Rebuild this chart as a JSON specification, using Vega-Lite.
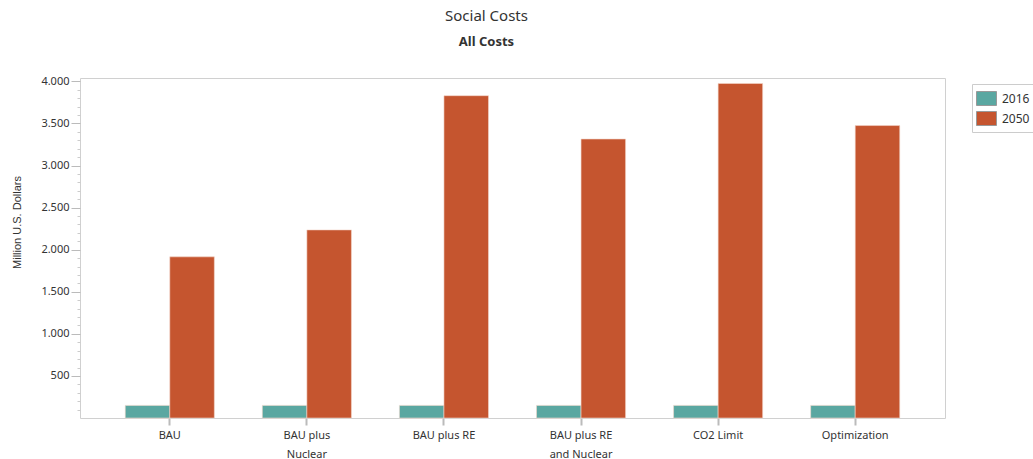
{
  "$schema": "https://vega.github.io/schema/vega-lite/v6.json",
  "autosize": {"type": "none"},
  "width": 865,
  "height": 340,
  "padding": {"left": 80, "top": 78, "right": 88, "bottom": 41},
  "title": {
    "text": "Social Costs",
    "subtitle": "All Costs",
    "anchor": "middle",
    "dx": -26,
    "offset": 26,
    "font": "Noto Sans",
    "fontSize": 15,
    "fontWeight": "normal",
    "color": "#333333",
    "subtitleFont": "Noto Sans",
    "subtitleFontSize": 13,
    "subtitleFontWeight": "bold",
    "subtitleColor": "#333333",
    "subtitlePadding": 12
  },
  "data": {
    "values": [
      {"scenario": "BAU", "year": "2016", "value": 150},
      {"scenario": "BAU", "year": "2050", "value": 1915},
      {"scenario": "BAU plus|Nuclear", "year": "2016", "value": 150},
      {"scenario": "BAU plus|Nuclear", "year": "2050", "value": 2235},
      {"scenario": "BAU plus RE", "year": "2016", "value": 150},
      {"scenario": "BAU plus RE", "year": "2050", "value": 3830},
      {"scenario": "BAU plus RE|and Nuclear", "year": "2016", "value": 150},
      {"scenario": "BAU plus RE|and Nuclear", "year": "2050", "value": 3315},
      {"scenario": "CO2 Limit", "year": "2016", "value": 150},
      {"scenario": "CO2 Limit", "year": "2050", "value": 3975},
      {"scenario": "Optimization", "year": "2016", "value": 150},
      {"scenario": "Optimization", "year": "2050", "value": 3475}
    ]
  },
  "encoding": {
    "x": {
      "field": "scenario",
      "type": "nominal",
      "sort": null,
      "scale": {"paddingInner": 0.35, "paddingOuter": 0.33},
      "axis": {
        "title": null,
        "labelAngle": 0,
        "labelExpr": "split(datum.value, '|')",
        "labelLineHeight": 19,
        "labelBaseline": "top",
        "labelPadding": 4,
        "labelFont": "Noto Sans",
        "labelFontSize": 11,
        "labelColor": "#333333",
        "domain": false,
        "tickSize": 7,
        "tickWidth": 2,
        "tickColor": "#bbbbbb"
      }
    }
  },
  "layer": [
    {
      "mark": {"type": "bar", "stroke": "#f4d8cc", "strokeWidth": 0.6},
      "encoding": {
        "xOffset": {"field": "year", "type": "nominal"},
        "y": {
          "field": "value",
          "type": "quantitative",
          "scale": {"domain": [0, 4040], "nice": false, "zero": true},
          "axis": {
            "title": "Million U.S. Dollars",
            "titleFont": "Liberation Sans Narrow, Liberation Sans",
            "titleFontSize": 11,
            "titleFontWeight": "normal",
            "titleColor": "#333333",
            "titlePadding": 18,
            "titleY": 144,
            "values": [500, 1000, 1500, 2000, 2500, 3000, 3500, 4000],
            "labelExpr": "replace(datum.label, ',', '.')",
            "labelFont": "Noto Sans",
            "labelFontSize": 11,
            "labelColor": "#333333",
            "labelPadding": 2,
            "tickSize": 9,
            "tickColor": "#bbbbbb",
            "domain": false,
            "grid": false
          }
        },
        "color": {
          "field": "year",
          "type": "nominal",
          "scale": {"domain": ["2016", "2050"], "range": ["#5aa7a1", "#c5552f"]},
          "legend": {
            "title": null,
            "orient": "none",
            "legendX": 892,
            "legendY": 6,
            "symbolType": "M-1,-0.7H1V0.7H-1Z",
            "symbolSize": 400,
            "symbolStrokeColor": "#999999",
            "symbolStrokeWidth": 1,
            "symbolOpacity": 1,
            "labelFont": "Noto Sans",
            "labelFontSize": 12,
            "labelColor": "#333333",
            "labelOffset": 5,
            "rowPadding": 0,
            "padding": 4,
            "strokeColor": "#cccccc",
            "fillColor": "white"
          }
        }
      }
    },
    {
      "mark": {"type": "point", "opacity": 0},
      "encoding": {
        "y": {
          "field": "value",
          "type": "quantitative",
          "scale": {"domain": [0, 4040], "nice": false, "zero": true},
          "axis": {
            "orient": "left",
            "title": null,
            "labels": false,
            "domain": false,
            "grid": false,
            "tickSize": 3,
            "tickColor": "#cccccc",
            "values": [100, 200, 300, 400, 600, 700, 800, 900, 1100, 1200, 1300, 1400, 1600, 1700, 1800, 1900, 2100, 2200, 2300, 2400, 2600, 2700, 2800, 2900, 3100, 3200, 3300, 3400, 3600, 3700, 3800, 3900]
          }
        }
      }
    }
  ],
  "resolve": {"scale": {"y": "independent"}, "axis": {"y": "independent"}},
  "config": {
    "view": {"stroke": "#d0d0d0", "strokeWidth": 1}
  }
}
